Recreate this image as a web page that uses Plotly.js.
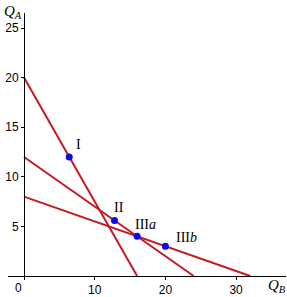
<!DOCTYPE html>
<html><head><meta charset="utf-8">
<script src="https://cdn.plot.ly/plotly-3.0.1.min.js"></script>
<style>html,body{margin:0;padding:0;background:#fff}#c{width:287px;height:297px}</style>
</head><body><div id="c"></div>
<script>
// Lines: intercepts on Q_A (y) axis and Q_B (x) axis
const lineYInt = [20, 12, 8];
const lineXInt = [16, 24, 32];
// Points
const ptLabels = ['I', 'II', 'III<i>a</i>', 'III<i>b</i>'];
const ptQB = [6.4, 12.8, 16, 20];
const ptQA = [12, 5.6, 4, 3];
// label pixel offsets (style)
const lblShift = [[9, 12], [4, 13], [-4, 12], [9, 9]];
const lblAnchor = ['center', 'center', 'left', 'left'];
// ticks
const xTicks = [10, 20, 30];
const yTicks = [5, 10, 15, 20, 25];

const W = 287, H = 297;
const red = 'rgb(196,26,36)';
const traces = [];
for (let i = 0; i < lineYInt.length; i++) {
  traces.push({x: [0, lineXInt[i]], y: [lineYInt[i], 0], mode: 'lines', type: 'scatter',
    line: {color: red, width: 2}, hoverinfo: 'skip', showlegend: false});
}
traces.push({x: ptQB, y: ptQA, mode: 'markers', type: 'scatter',
  marker: {color: 'rgb(10,10,230)', size: 7}, showlegend: false});

const annotations = ptLabels.map((t, i) => ({
  x: ptQB[i], y: ptQA[i], xref: 'x', yref: 'y', text: t, showarrow: false,
  xanchor: lblAnchor[i], yanchor: 'middle', xshift: lblShift[i][0], yshift: lblShift[i][1],
  font: {family: 'Liberation Serif', size: 14, color: '#000'}
}));
annotations.push({x: 0, y: 0, xref: 'x', yref: 'y', text: '0', showarrow: false,
  xanchor: 'right', yanchor: 'top', xshift: 0, yshift: -3,
  font: {family: 'Liberation Sans', size: 12, color: '#000'}});
annotations.push({x: 2 / W, y: 1 - 1 / H, xref: 'paper', yref: 'paper', xanchor: 'left', yanchor: 'top',
  text: '<i>Q</i><sub><i>A</i></sub>', showarrow: false,
  font: {family: 'Liberation Serif', size: 15, color: '#000'}});
annotations.push({x: 266 / W, y: 0, xref: 'paper', yref: 'paper', xanchor: 'left', yanchor: 'bottom',
  text: '<i>Q</i><sub><i>B</i></sub>', showarrow: false,
  font: {family: 'Liberation Serif', size: 15, color: '#000'}});

const x0 = 24, ppx = 7.07, y0 = 276, ppy = 9.92;
const xd = [8, 286], yd = [13, 280];
const layout = {
  width: W, height: H, margin: {l: 0, r: 0, t: 0, b: 0}, paper_bgcolor: '#fff', plot_bgcolor: 'rgba(0,0,0,0)',
  showlegend: false,
  xaxis: {domain: [xd[0] / W, xd[1] / W], range: [(xd[0] - x0) / ppx, (xd[1] - x0) / ppx],
    anchor: 'free', position: (H - y0) / H, showline: true, linecolor: '#000', linewidth: 1,
    showgrid: false, zeroline: false, tickvals: xTicks, ticks: 'outside', ticklen: 3, tickcolor: '#000',
    tickfont: {family: 'Liberation Sans', size: 12, color: '#000'}, automargin: false, fixedrange: true},
  yaxis: {domain: [(H - yd[1]) / H, (H - yd[0]) / H], range: [(y0 - yd[1]) / ppy, (y0 - yd[0]) / ppy],
    anchor: 'free', position: x0 / W, showline: true, linecolor: '#000', linewidth: 1,
    showgrid: false, zeroline: false, tickvals: yTicks, ticks: 'outside', ticklen: 3, tickcolor: '#000',
    tickfont: {family: 'Liberation Sans', size: 12, color: '#000'}, automargin: false, fixedrange: true},
  annotations: annotations
};
Plotly.newPlot('c', traces, layout, {staticPlot: true});
</script></body></html>
